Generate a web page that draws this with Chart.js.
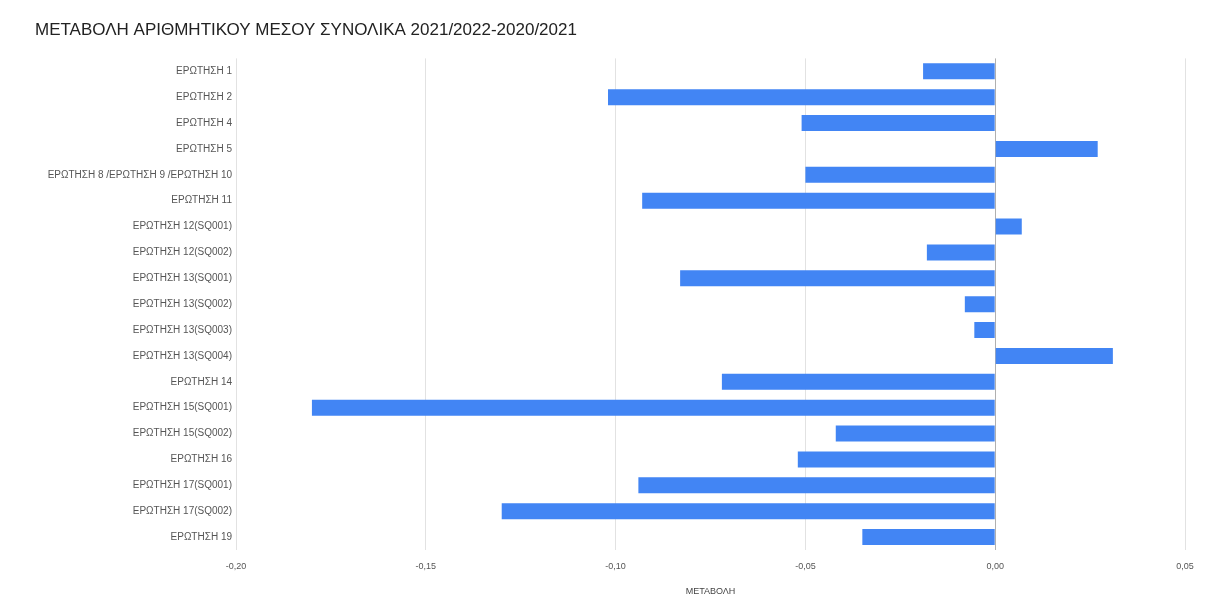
<!DOCTYPE html>
<html>
<head>
<meta charset="utf-8">
<script src="https://cdn.jsdelivr.net/npm/chart.js@4.4.1/dist/chart.umd.min.js"></script>
<style>
  body { margin: 0; background: #fff; }
  #wrap { width: 1215px; height: 597px; }
</style>
</head>
<body>
<div id="wrap"><canvas id="myChart"></canvas></div>
<script>
// questions (categories)
const questions = [
    "ΕΡΩΤΗΣΗ 1", "ΕΡΩΤΗΣΗ 2", "ΕΡΩΤΗΣΗ 4", "ΕΡΩΤΗΣΗ 5",
    "ΕΡΩΤΗΣΗ 8 /ΕΡΩΤΗΣΗ 9 /ΕΡΩΤΗΣΗ 10", "ΕΡΩΤΗΣΗ 11",
    "ΕΡΩΤΗΣΗ 12(SQ001)", "ΕΡΩΤΗΣΗ 12(SQ002)",
    "ΕΡΩΤΗΣΗ 13(SQ001)", "ΕΡΩΤΗΣΗ 13(SQ002)", "ΕΡΩΤΗΣΗ 13(SQ003)", "ΕΡΩΤΗΣΗ 13(SQ004)",
    "ΕΡΩΤΗΣΗ 14", "ΕΡΩΤΗΣΗ 15(SQ001)", "ΕΡΩΤΗΣΗ 15(SQ002)", "ΕΡΩΤΗΣΗ 16",
    "ΕΡΩΤΗΣΗ 17(SQ001)", "ΕΡΩΤΗΣΗ 17(SQ002)", "ΕΡΩΤΗΣΗ 19"
];

// change of mean, 2021/2022 minus 2020/2021
const changes = [
    -0.019, -0.102, -0.051, 0.027,
    -0.050, -0.093,
    0.007, -0.018,
    -0.083, -0.008, -0.0055, 0.031,
    -0.072, -0.180, -0.042, -0.052,
    -0.094, -0.130, -0.035
];

const xTicks = [-0.20, -0.15, -0.10, -0.05, 0.00, 0.05];

const ctx = document.getElementById('myChart').getContext('2d');

new Chart(ctx, {
    type: 'bar',
    data: {
        labels: questions,
        datasets: [{
            label: 'ΜΕΤΑΒΟΛΗ',
            data: changes,
            backgroundColor: '#4285f4',
            borderWidth: 0,
            barPercentage: 0.62,
            categoryPercentage: 1.0
        }]
    },
    options: {
        indexAxis: 'y',
        responsive: true,
        maintainAspectRatio: false,
        animation: false,
        layout: {
            padding: { left: 35, right: 30, top: 20, bottom: 0 }
        },
        plugins: {
            legend: { display: false },
            tooltip: { enabled: false },
            title: {
                display: true,
                text: 'ΜΕΤΑΒΟΛΗ ΑΡΙΘΜΗΤΙΚΟΥ ΜΕΣΟΥ ΣΥΝΟΛΙΚΑ 2021/2022-2020/2021',
                align: 'start',
                color: '#222',
                font: { family: 'Liberation Sans, Arial', size: 17, weight: 'normal' },
                padding: { top: 0, bottom: 18 }
            }
        },
        scales: {
            x: {
                min: xTicks[0],
                max: xTicks[xTicks.length - 1],
                afterBuildTicks: scale => {
                    scale.ticks = xTicks.map(v => ({ value: v }));
                },
                afterFit: scale => { scale.height = 47; },
                grid: {
                    color: ctx => ctx.tick && ctx.tick.value === 0 ? '#b0b0b0' : '#e2e2e2',
                    drawTicks: false
                },
                border: { display: false },
                ticks: {
                    color: '#555',
                    font: { family: 'Liberation Sans, Arial', size: 9 },
                    padding: 11,
                    callback: v => Number(v).toFixed(2).replace('.', ',')
                },
                title: {
                    display: true,
                    text: 'ΜΕΤΑΒΟΛΗ',
                    color: '#444',
                    font: { family: 'Liberation Sans, Arial', size: 9 },
                    padding: { top: 6, bottom: 0 }
                }
            },
            y: {
                afterFit: scale => { scale.width = 201; },
                grid: { display: false, drawTicks: false },
                border: { display: false },
                ticks: {
                    color: '#555',
                    font: { family: 'Liberation Sans, Arial', size: 10 },
                    padding: 4,
                    autoSkip: false
                }
            }
        }
    }
});
</script>
</body>
</html>
